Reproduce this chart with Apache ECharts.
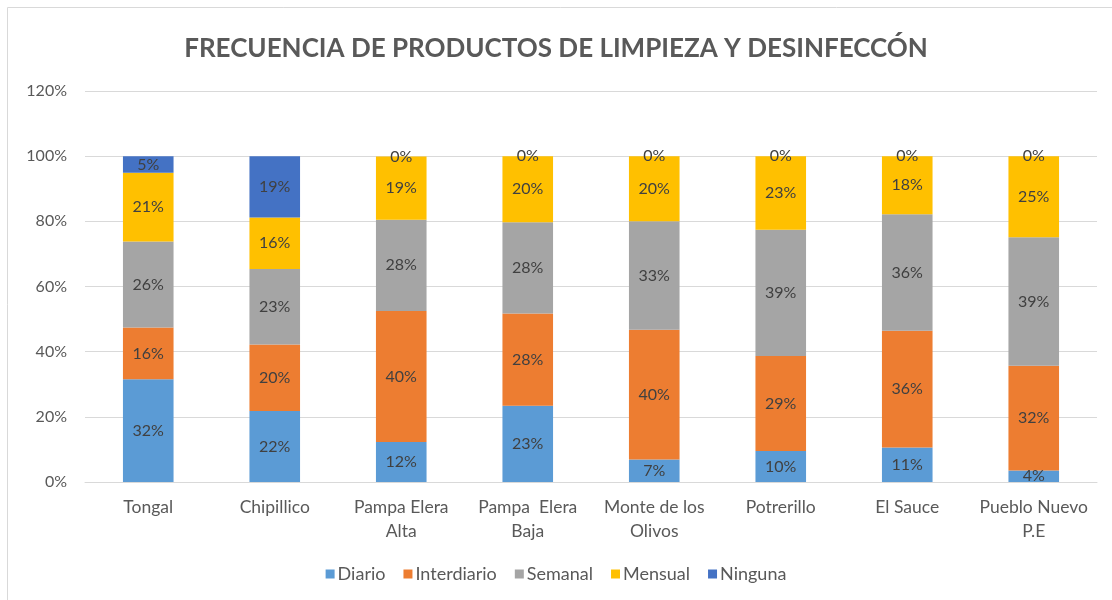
<!DOCTYPE html>
<html>
<head>
<meta charset="utf-8">
<script src="https://cdn.jsdelivr.net/npm/echarts@6/dist/echarts.min.js"></script>
<style>
html, body { margin: 0; padding: 0; background: #fff; }
#chart { width: 1112px; height: 600px; }
</style>
</head>
<body>
<div id="chart"></div>
<script>
var categories = ['Tongal', 'Chipillico', 'Pampa Elera\nAlta', 'Pampa  Elera\nBaja',
    'Monte de los\nOlivos', 'Potrerillo', 'El Sauce', 'Pueblo Nuevo\nP.E'];
var diario      = [31.5, 21.8, 12.3, 23.4, 6.9, 9.5, 10.6, 3.5];
var interdiario = [15.9, 20.4, 40.2, 28.3, 39.8, 29.2, 35.8, 32.2];
var semanal     = [26.4, 23.2, 28.0, 28.0, 33.3, 38.7, 35.8, 39.4];
var mensual     = [21.1, 15.8, 19.4, 20.3, 20.0, 22.6, 17.8, 24.9];
var ninguna     = [5.1, 18.8, 0, 0, 0, 0, 0, 0];
var yTicks = [0, 20, 40, 60, 80, 100, 120];

var chart = echarts.init(document.getElementById('chart'));

function makeSeries(name, data, color) {
    return {
        name: name,
        type: 'bar',
        stack: 'total',
        data: data,
        barWidth: '40%',
        itemStyle: { color: color },
        label: {
            show: true,
            position: 'inside',
            color: '#404040',
            fontFamily: 'Lato',
            fontSize: 16,
            formatter: function (p) { return Math.round(p.value) + '%'; }
        }
    };
}

chart.setOption({
    animation: false,
    title: {
        text: 'FRECUENCIA DE PRODUCTOS DE LIMPIEZA Y DESINFECCÓN',
        left: 'center',
        top: 31,
        textStyle: {
            color: '#595959',
            fontFamily: 'Lato',
            fontWeight: 'bold',
            fontSize: 26
        }
    },
    graphic: [{
        type: 'rect',
        shape: { x: 7.5, y: 7.5, width: 1120, height: 600 },
        style: { fill: 'none', stroke: '#d9d9d9', lineWidth: 1 },
        silent: true
    }],
    legend: {
        bottom: 12,
        left: 'center',
        itemWidth: 9,
        itemHeight: 9,
        itemGap: 18,
        icon: 'rect',
        textStyle: { color: '#595959', fontFamily: 'Lato', fontSize: 18, padding: [0, 0, 0, -2] },
        data: ['Diario', 'Interdiario', 'Semanal', 'Mensual', 'Ninguna']
    },
    grid: { left: 85, right: 15, top: 91, bottom: 118 },
    xAxis: {
        type: 'category',
        data: categories,
        axisLine: { lineStyle: { color: '#d9d9d9' } },
        axisTick: { show: false },
        axisLabel: {
            color: '#595959',
            fontFamily: 'Lato',
            fontSize: 17.5,
            lineHeight: 24,
            margin: 13,
            interval: 0
        }
    },
    yAxis: {
        type: 'value',
        min: yTicks[0],
        max: yTicks[yTicks.length - 1],
        interval: 20,
        axisLine: { show: false },
        axisTick: { show: false },
        splitLine: { lineStyle: { color: '#d9d9d9' } },
        axisLabel: {
            color: '#595959',
            fontFamily: 'Lato',
            fontSize: 16,
            margin: 18,
            formatter: '{value}%'
        }
    },
    series: [
        makeSeries('Diario', diario, '#5b9bd5'),
        makeSeries('Interdiario', interdiario, '#ed7d31'),
        makeSeries('Semanal', semanal, '#a5a5a5'),
        makeSeries('Mensual', mensual, '#ffc000'),
        makeSeries('Ninguna', ninguna, '#4472c4')
    ]
});
</script>
</body>
</html>
